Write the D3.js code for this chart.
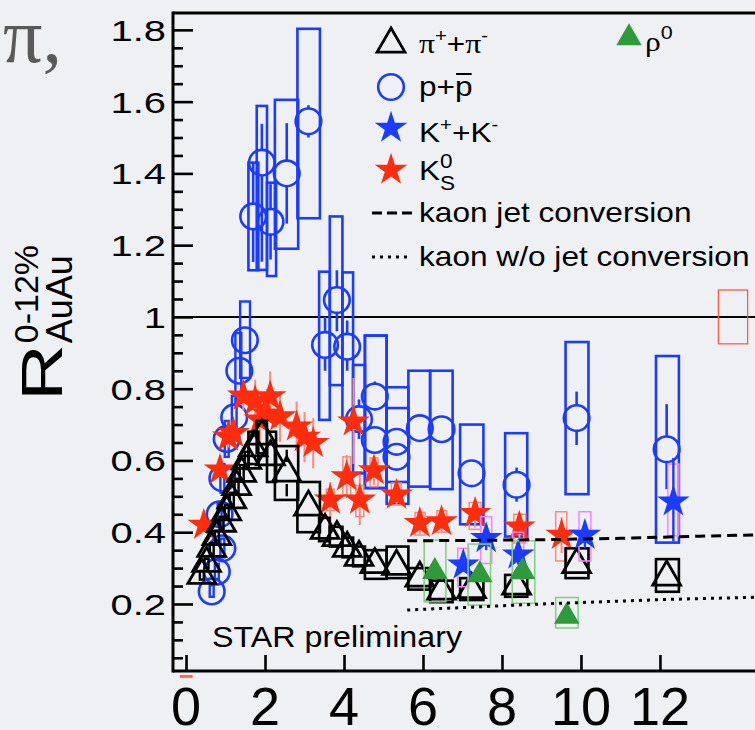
<!DOCTYPE html>
<html>
<head>
<meta charset="utf-8">
<script src="https://cdn.jsdelivr.net/npm/d3@7"></script>
<style>
  html, body { margin: 0; padding: 0; background: #eff0f4; }
  svg { display: block; }
</style>
</head>
<body>
<svg id="chart" width="755" height="730"></svg>
<script>
// ---- axis ticks ----
const xTicks = [0, 2, 4, 6, 8, 10, 12];
const xTickLabels = ["0", "2", "4", "6", "8", "10", "12"];
const yTicks = [0.2, 0.4, 0.6, 0.8, 1.0, 1.2, 1.4, 1.6, 1.8];
const yTickLabels = ["0.2", "0.4", "0.6", "0.8", "1", "1.2", "1.4", "1.6", "1.8"];

// ---- p + pbar, low pT (TOF): pT, R, sysLo, sysHi, binLo, binHi ----
const protonTof = [
  [0.65, 0.235, 0.220, 0.252, 0.60, 0.70],
  [0.78, 0.290, 0.270, 0.312, 0.73, 0.83],
  [0.92, 0.355, 0.330, 0.382, 0.87, 0.97],
  [0.85, 0.450, 0.420, 0.480, 0.80, 0.90],
  [0.92, 0.550, 0.510, 0.590, 0.87, 0.97],
  [1.03, 0.660, 0.610, 0.710, 0.98, 1.08],
  [1.22, 0.720, 0.660, 0.780, 1.16, 1.28],
  [1.35, 0.850, 0.760, 0.955, 1.25, 1.40],
  [1.49, 0.935, 0.830, 1.043, 1.37, 1.62]
];
// ---- p + pbar, rdE/dx: pT, R, statLo, statHi, sysLo, sysHi, binLo, binHi ----
const protonRdedx = [
  [1.70, 1.280, 1.153, 1.428, 1.130, 1.430, 1.58, 1.83],
  [1.92, 1.430, 1.154, 1.538, 1.131, 1.588, 1.79, 2.05],
  [2.14, 1.265, 1.160, 1.370, 1.114, 1.374, 2.05, 2.28],
  [2.55, 1.400, 1.260, 1.540, 1.190, 1.605, 2.25, 2.84],
  [3.10, 1.545, 1.500, 1.590, 1.275, 1.803, 2.82, 3.39],
  [3.52, 0.922, 0.850, 1.000, 0.713, 1.126, 3.37, 3.64],
  [3.82, 1.047, 0.960, 1.130, 0.810, 1.280, 3.64, 3.96],
  [4.08, 0.917, 0.850, 0.990, 0.718, 1.124, 3.96, 4.23],
  [4.38, 0.715, 0.660, 0.770, 0.564, 0.866, 4.23, 4.53],
  [4.78, 0.778, 0.740, 0.820, 0.523, 0.948, 4.53, 5.08],
  [4.78, 0.657, 0.630, 0.690, 0.523, 0.948, 4.53, 5.08],
  [5.33, 0.652, 0.620, 0.690, 0.540, 0.804, 5.08, 5.63],
  [5.33, 0.610, 0.580, 0.640, 0.479, 0.746, 5.08, 5.63],
  [5.92, 0.690, 0.660, 0.720, 0.527, 0.850, 5.63, 6.18],
  [6.47, 0.687, 0.650, 0.720, 0.520, 0.850, 6.18, 6.75],
  [7.23, 0.564, 0.530, 0.600, 0.422, 0.700, 6.94, 7.53],
  [8.37, 0.532, 0.485, 0.580, 0.388, 0.676, 8.08, 8.64],
  [9.89, 0.718, 0.643, 0.792, 0.506, 0.930, 9.61, 10.19],
  [12.17, 0.631, 0.520, 0.757, 0.371, 0.891, 11.90, 12.48]
];

// ---- pi+ + pi-, low pT (TOF): pT, R, sysLo, sysHi, binLo, binHi ----
const pionTof = [
  [0.40, 0.280, 0.268, 0.292, 0.35, 0.45],
  [0.52, 0.313, 0.300, 0.326, 0.47, 0.57],
  [0.65, 0.355, 0.340, 0.370, 0.60, 0.70],
  [0.78, 0.388, 0.372, 0.404, 0.73, 0.83],
  [0.90, 0.425, 0.407, 0.443, 0.85, 0.95],
  [1.03, 0.457, 0.438, 0.476, 0.98, 1.08],
  [1.16, 0.490, 0.470, 0.510, 1.11, 1.21],
  [1.28, 0.527, 0.505, 0.549, 1.23, 1.33],
  [1.41, 0.564, 0.541, 0.587, 1.36, 1.46],
  [1.54, 0.600, 0.576, 0.624, 1.49, 1.59]
];
// ---- pi+ + pi-, rdE/dx: pT, R, statLo, statHi, sysLo, sysHi, binLo, binHi ----
const pionRdedx = [
  [1.70, 0.635, 0.630, 0.640, 0.590, 0.680, 1.58, 1.83],
  [1.92, 0.668, 0.660, 0.676, 0.620, 0.710, 1.79, 2.05],
  [2.14, 0.610, 0.600, 0.620, 0.540, 0.680, 2.05, 2.28],
  [2.55, 0.565, 0.500, 0.630, 0.490, 0.640, 2.25, 2.84],
  [3.10, 0.470, 0.460, 0.480, 0.400, 0.540, 2.82, 3.39],
  [3.52, 0.405, 0.400, 0.410, 0.375, 0.440, 3.37, 3.64],
  [3.82, 0.385, 0.380, 0.390, 0.360, 0.415, 3.64, 3.96],
  [4.08, 0.355, 0.350, 0.360, 0.330, 0.385, 3.96, 4.23],
  [4.38, 0.330, 0.325, 0.335, 0.305, 0.360, 4.23, 4.53],
  [4.78, 0.310, 0.305, 0.315, 0.270, 0.350, 4.53, 5.08],
  [5.33, 0.305, 0.300, 0.310, 0.272, 0.360, 5.08, 5.63],
  [5.92, 0.272, 0.267, 0.277, 0.240, 0.300, 5.63, 6.18],
  [6.47, 0.236, 0.231, 0.241, 0.205, 0.265, 6.18, 6.75],
  [7.23, 0.240, 0.235, 0.245, 0.211, 0.272, 6.94, 7.53],
  [8.37, 0.250, 0.244, 0.256, 0.220, 0.281, 8.08, 8.64],
  [9.89, 0.310, 0.302, 0.318, 0.272, 0.355, 9.61, 10.19],
  [12.17, 0.275, 0.265, 0.285, 0.234, 0.325, 11.90, 12.48]
];

// ---- K0S: pT, R, statLo, statHi, sysLo, sysHi, binLo, binHi (null = no box) ----
const kaonShort = [
  [0.45, 0.420, 0.405, 0.435, null, null, null, null],
  [0.86, 0.574, 0.554, 0.594, null, null, null, null],
  [1.07, 0.666, 0.636, 0.696, null, null, null, null],
  [1.20, 0.676, 0.646, 0.706, null, null, null, null],
  [1.45, 0.780, 0.740, 0.820, null, null, null, null],
  [1.75, 0.765, 0.705, 0.825, null, null, null, null],
  [1.87, 0.713, 0.653, 0.773, null, null, null, null],
  [2.05, 0.730, 0.660, 0.800, null, null, null, null],
  [2.13, 0.778, 0.708, 0.848, null, null, null, null],
  [2.38, 0.722, 0.652, 0.792, null, null, null, null],
  [2.80, 0.694, 0.624, 0.764, null, null, null, null],
  [3.00, 0.665, 0.595, 0.735, null, null, null, null],
  [3.22, 0.648, 0.578, 0.718, null, null, null, null],
  [3.65, 0.490, 0.440, 0.540, 0.460, 0.520, 3.55, 3.75],
  [4.07, 0.555, 0.495, 0.615, 0.500, 0.610, 3.97, 4.17],
  [4.24, 0.708, 0.590, 0.830, null, null, null, null],
  [4.40, 0.490, 0.420, 0.560, 0.443, 0.530, 4.30, 4.50],
  [4.76, 0.572, 0.532, 0.612, 0.527, 0.607, 4.66, 4.86],
  [5.33, 0.504, 0.474, 0.534, 0.476, 0.537, 5.20, 5.45],
  [5.92, 0.425, 0.395, 0.455, 0.392, 0.455, 5.80, 6.05],
  [6.47, 0.430, 0.400, 0.460, 0.400, 0.460, 6.35, 6.60],
  [7.32, 0.453, 0.413, 0.493, 0.408, 0.483, 7.17, 7.47],
  [8.44, 0.415, 0.375, 0.455, 0.370, 0.450, 8.30, 8.60],
  [9.51, 0.392, 0.342, 0.442, 0.320, 0.457, 9.36, 9.64]
];

// ---- K+ + K-: pT, R, statLo, statHi, sysLo, sysHi, binLo, binHi ----
const kaonCharged = [
  [7.02, 0.309, 0.290, 0.330, 0.248, 0.355, 6.88, 7.16],
  [7.60, 0.383, 0.350, 0.420, 0.313, 0.443, 7.46, 7.74],
  [8.41, 0.337, 0.310, 0.370, 0.270, 0.400, 8.27, 8.55],
  [10.10, 0.392, 0.355, 0.430, 0.320, 0.457, 9.95, 10.25],
  [12.34, 0.485, 0.374, 0.607, 0.390, 0.590, 12.20, 12.48]
];

// ---- rho0: pT, R, sysLo, sysHi, binLo, binHi ----
const rhoZero = [
  [6.30, 0.290, 0.206, 0.378, 6.03, 6.58],
  [7.44, 0.281, 0.197, 0.367, 7.14, 7.71],
  [8.52, 0.290, 0.202, 0.376, 8.26, 8.83],
  [9.64, 0.165, 0.133, 0.218, 9.36, 9.93]
];

// ---- kaon model curves ----
const modelPt = [5.6, 7, 8, 9, 10, 11, 12, 13, 14.6];
const kaonJetConv = [0.376, 0.377, 0.378, 0.379, 0.381, 0.383, 0.386, 0.389, 0.393];
const kaonNoJetConv = [0.183, 0.190, 0.195, 0.200, 0.204, 0.208, 0.212, 0.215, 0.219];

// ---- normalisation uncertainties: pTLo, pTHi, RLo, RHi ----
const normBoxes = [
  [13.48, 14.22, 0.925, 1.075],
  [-0.14, 0.15, -0.004, 0.0]
];

// ---------------------------------------------------------------
const svg = d3.select("#chart");
const W = 755, H = 730;
svg.append("rect").attr("width", W).attr("height", H).attr("fill", "#eff0f4");

const frame = { left: 173, right: 765, top: 13, bottom: 671 };
const x = d3.scaleLinear().domain([-0.33, 14.66]).range([frame.left, frame.right]);
const y = d3.scaleLinear().domain([0.0132, 1.847]).range([frame.bottom, frame.top]);

const BLUE = "#1b3bff", RED = "#ff2d0d", GREEN = "#2f9a3a";
const SALMON = "#ff8a7a", MAGENTA = "#ff80ff", LIGHTGREEN = "#86cc86";
const SANS = "'Liberation Sans', Arial, Helvetica, sans-serif";
const SERIF = "'Liberation Serif', 'Times New Roman', serif";

const plot = svg.append("g");

// unity line
plot.append("line")
  .attr("x1", frame.left).attr("x2", W)
  .attr("y1", y(1)).attr("y2", y(1))
  .attr("stroke", "#000").attr("stroke-width", 2);

function drawBoxes(rows, getter, color, width) {
  plot.append("g").selectAll("rect")
    .data(rows.filter(r => getter(r) !== null))
    .join("rect")
    .attr("x", r => x(getter(r)[2]))
    .attr("width", r => x(getter(r)[3]) - x(getter(r)[2]))
    .attr("y", r => y(getter(r)[1]))
    .attr("height", r => y(getter(r)[0]) - y(getter(r)[1]))
    .attr("fill", "none").attr("stroke", color).attr("stroke-width", width);
}

// error bars that stop at the edge of an open marker
function drawBars(rows, getter, color, width, gap) {
  const g = plot.append("g").attr("stroke", color).attr("stroke-width", width);
  rows.forEach(r => {
    const [pt, val, lo, hi] = getter(r);
    if (lo === null) return;
    const cx = x(pt), cy = y(val);
    const yHi = y(hi), yLo = y(lo);
    if (cy - gap > yHi) g.append("line").attr("x1", cx).attr("x2", cx).attr("y1", yHi).attr("y2", cy - gap);
    if (cy + gap < yLo) g.append("line").attr("x1", cx).attr("x2", cx).attr("y1", cy + gap).attr("y2", yLo);
  });
}

const starPath = d3.symbol(d3.symbolStar, 330)();
const triPath = d3.symbol(d3.symbolTriangle, 335)();
const triFillPath = d3.symbol(d3.symbolTriangle, 280)();

// ---- protons ----
drawBoxes(protonTof, r => [r[2], r[3], r[4], r[5]], BLUE, 2.4);
drawBoxes(protonRdedx, r => [r[4], r[5], r[6], r[7]], BLUE, 2.6);
drawBars(protonRdedx, r => [r[0], r[1], r[2], r[3]], BLUE, 2.6, 12.5);
plot.append("g").selectAll("circle")
  .data(protonTof.concat(protonRdedx))
  .join("circle")
  .attr("cx", r => x(r[0])).attr("cy", r => y(r[1])).attr("r", 12.8)
  .attr("fill", "none").attr("stroke", BLUE).attr("stroke-width", 2.6);

// ---- K0S ----
drawBoxes(kaonShort, r => r[4] === null ? null : [r[4], r[5], r[6], r[7]], SALMON, 1.5);
drawBars(kaonShort, r => [r[0], r[1], r[2], r[3]], SALMON, 2, 0);
plot.append("g").selectAll("path")
  .data(kaonShort)
  .join("path")
  .attr("d", starPath)
  .attr("transform", r => `translate(${x(r[0])},${y(r[1])})`)
  .attr("fill", RED);

// ---- pions ----
drawBoxes(pionTof, r => [r[2], r[3], r[4], r[5]], "#000", 2.4);
drawBoxes(pionRdedx, r => [r[4], r[5], r[6], r[7]], "#000", 2.6);
drawBars(pionRdedx, r => [r[0], r[1], r[2], r[3]], "#000", 2.4, 11);
plot.append("g").selectAll("path")
  .data(pionTof.concat(pionRdedx))
  .join("path")
  .attr("d", triPath)
  .attr("transform", r => `translate(${x(r[0])},${y(r[1])})`)
  .attr("fill", "none").attr("stroke", "#000").attr("stroke-width", 2.8);

// ---- K+ + K- ----
drawBoxes(kaonCharged, r => [r[4], r[5], r[6], r[7]], MAGENTA, 1.5);
drawBars(kaonCharged, r => [r[0], r[1], r[2], r[3]], BLUE, 2.4, 0);
plot.append("g").selectAll("path")
  .data(kaonCharged)
  .join("path")
  .attr("d", starPath)
  .attr("transform", r => `translate(${x(r[0])},${y(r[1])})`)
  .attr("fill", BLUE);

// ---- rho0 ----
drawBoxes(rhoZero, r => [r[2], r[3], r[4], r[5]], LIGHTGREEN, 1.5);
plot.append("g").selectAll("path")
  .data(rhoZero)
  .join("path")
  .attr("d", triFillPath)
  .attr("transform", r => `translate(${x(r[0])},${y(r[1])})`)
  .attr("fill", GREEN);

// ---- model curves ----
const line = d3.line().x(d => x(d[0])).y(d => y(d[1]));
plot.append("path")
  .attr("d", line(modelPt.map((p, i) => [p, kaonJetConv[i]])))
  .attr("fill", "none").attr("stroke", "#000").attr("stroke-width", 3)
  .attr("stroke-dasharray", "10,6");
plot.append("path")
  .attr("d", line(modelPt.map((p, i) => [p, kaonNoJetConv[i]])))
  .attr("fill", "none").attr("stroke", "#000").attr("stroke-width", 3)
  .attr("stroke-dasharray", "3,5");

// ---- normalisation boxes ----
plot.append("g").selectAll("rect")
  .data(normBoxes)
  .join("rect")
  .attr("x", d => x(d[0])).attr("width", d => x(d[1]) - x(d[0]))
  .attr("y", d => y(d[3])).attr("height", d => Math.max(0.5, y(d[2]) - y(d[3])))
  .attr("fill", "none").attr("stroke", "#ff5a46").attr("stroke-width", 1.3);

// ---- frame and axes ----
const axes = svg.append("g").attr("stroke", "#000").attr("stroke-width", 3);
axes.append("line").attr("x1", frame.left).attr("x2", frame.left).attr("y1", frame.top - 1.5).attr("y2", frame.bottom + 1.5);
axes.append("line").attr("x1", frame.left).attr("x2", W).attr("y1", frame.top).attr("y2", frame.top);
axes.append("line").attr("x1", frame.left).attr("x2", W).attr("y1", frame.bottom).attr("y2", frame.bottom);

const yMinor = d3.range(1, 37).filter(i => i % 4 !== 0).map(i => i * 0.05);
const yAxisMajor = svg.append("g").attr("transform", `translate(${frame.left},0)`)
  .call(d3.axisRight(y).tickValues(yTicks).tickSize(20).tickFormat(""));
const yAxisMinor = svg.append("g").attr("transform", `translate(${frame.left},0)`)
  .call(d3.axisRight(y).tickValues(yMinor).tickSize(10).tickFormat(""));
const xAxisMajor = svg.append("g").attr("transform", `translate(0,${frame.bottom})`)
  .call(d3.axisTop(x).tickValues(xTicks).tickSize(16).tickFormat(""));
[yAxisMajor, yAxisMinor, xAxisMajor].forEach(a => {
  a.select(".domain").remove();
  a.selectAll(".tick line").attr("stroke", "#000").attr("stroke-width", 2.6);
});

// y tick labels
svg.append("g").selectAll("text")
  .data(yTicks)
  .join("text")
  .attr("transform", (d) => `translate(166,${y(d) + 11}) scale(1.33,1)`)
  .attr("text-anchor", "end")
  .attr("font-family", SANS).attr("font-size", 30).attr("fill", "#000")
  .text((d, i) => yTickLabels[i]);

// x tick labels
svg.append("g").selectAll("text")
  .data(xTicks)
  .join("text")
  .attr("transform", (d) => `translate(${x(d)},725) scale(1.02,1)`)
  .attr("text-anchor", "middle")
  .attr("font-family", SANS).attr("font-size", 53).attr("fill", "#000")
  .text((d, i) => xTickLabels[i]);

// y title R^{0-12%}_{AuAu}
const yTitle = svg.append("g").attr("transform", "translate(62,401) rotate(-90)")
  .attr("font-family", SANS).attr("fill", "#000");
const rText = yTitle.append("text").attr("transform", "scale(1.38,1)")
  .attr("font-size", 57).text("R");
const rLen = rText.node().getComputedTextLength() * 1.38;
yTitle.append("text").attr("x", rLen + 1).attr("y", -24)
  .attr("font-size", 34).text("0-12%");
yTitle.append("text").attr("x", rLen + 1).attr("y", 10)
  .attr("font-size", 36).text("AuAu");

// top-left fragment of the title
svg.append("text").attr("x", 3).attr("y", 62)
  .attr("font-family", SERIF).attr("font-size", 78).attr("fill", "#595959")
  .text("π,");

// STAR preliminary
svg.append("text").attr("x", 212).attr("y", 647)
  .attr("font-family", SANS).attr("font-size", 29)
  .attr("textLength", 250).attr("lengthAdjust", "spacingAndGlyphs")
  .text("STAR preliminary");

// ---- legend ----
const legend = svg.append("g");
const markX = 391;
legend.append("path").attr("d", triPath).attr("transform", `translate(${markX},44)`)
  .attr("fill", "none").attr("stroke", "#000").attr("stroke-width", 2.8);
legend.append("circle").attr("cx", markX).attr("cy", 87).attr("r", 12.8)
  .attr("fill", "none").attr("stroke", BLUE).attr("stroke-width", 2.6);
legend.append("path").attr("d", starPath).attr("transform", `translate(${markX},128)`).attr("fill", BLUE);
legend.append("path").attr("d", starPath).attr("transform", `translate(${markX},170)`).attr("fill", RED);
legend.append("line").attr("x1", 372).attr("x2", 412).attr("y1", 213).attr("y2", 213)
  .attr("stroke", "#000").attr("stroke-width", 3).attr("stroke-dasharray", "10,5");
legend.append("line").attr("x1", 372).attr("x2", 408).attr("y1", 257).attr("y2", 257)
  .attr("stroke", "#000").attr("stroke-width", 3).attr("stroke-dasharray", "3,5");
legend.append("path").attr("d", triFillPath).attr("transform", `translate(629,38)`).attr("fill", GREEN);

function legendText(tx, ty) {
  return legend.append("text")
    .attr("transform", `translate(${tx},${ty}) scale(1.13,1)`)
    .attr("font-family", SANS).attr("font-size", 28).attr("fill", "#000");
}
// pi+ + pi-
const tPi = legendText(419, 53);
tPi.append("tspan").attr("font-family", SERIF).text("π");
tPi.append("tspan").attr("font-size", 18).attr("dy", -11).text("+");
tPi.append("tspan").attr("dy", 11).text("+");
tPi.append("tspan").attr("font-family", SERIF).text("π");
tPi.append("tspan").attr("font-size", 18).attr("dy", -11).text("-");
// p + pbar
const tP = legendText(419, 96);
tP.append("tspan").text("p+");
const pPlusLen = tP.node().getComputedTextLength();
tP.append("tspan").text("p");
const pLen = tP.node().getComputedTextLength() - pPlusLen;
legend.append("line")
  .attr("x1", 419 + pPlusLen * 1.13 + 1).attr("x2", 419 + (pPlusLen + pLen) * 1.13 - 1)
  .attr("y1", 74).attr("y2", 74).attr("stroke", "#000").attr("stroke-width", 2);
// K+ + K-
const tK = legendText(419, 142);
tK.append("tspan").text("K");
tK.append("tspan").attr("font-size", 18).attr("dy", -11).text("+");
tK.append("tspan").attr("dy", 11).text("+K");
tK.append("tspan").attr("font-size", 18).attr("dy", -11).text("-");
// K0S
const tKs = legendText(419, 180);
tKs.append("tspan").text("K");
const kLen = tKs.node().getComputedTextLength();
tKs.append("tspan").attr("font-size", 20).attr("dy", -12).text("0");
legendText(419 + kLen * 1.13, 190).attr("font-size", 20).text("S");
// model curves
legendText(419, 222).text("kaon jet conversion");
legendText(419, 266).text("kaon w/o jet conversion");
// rho0
const tRho = legendText(645, 51);
tRho.append("tspan").attr("font-family", SERIF).text("ρ");
tRho.append("tspan").attr("font-size", 19).attr("dy", -12).text("0");
</script>
</body>
</html>
